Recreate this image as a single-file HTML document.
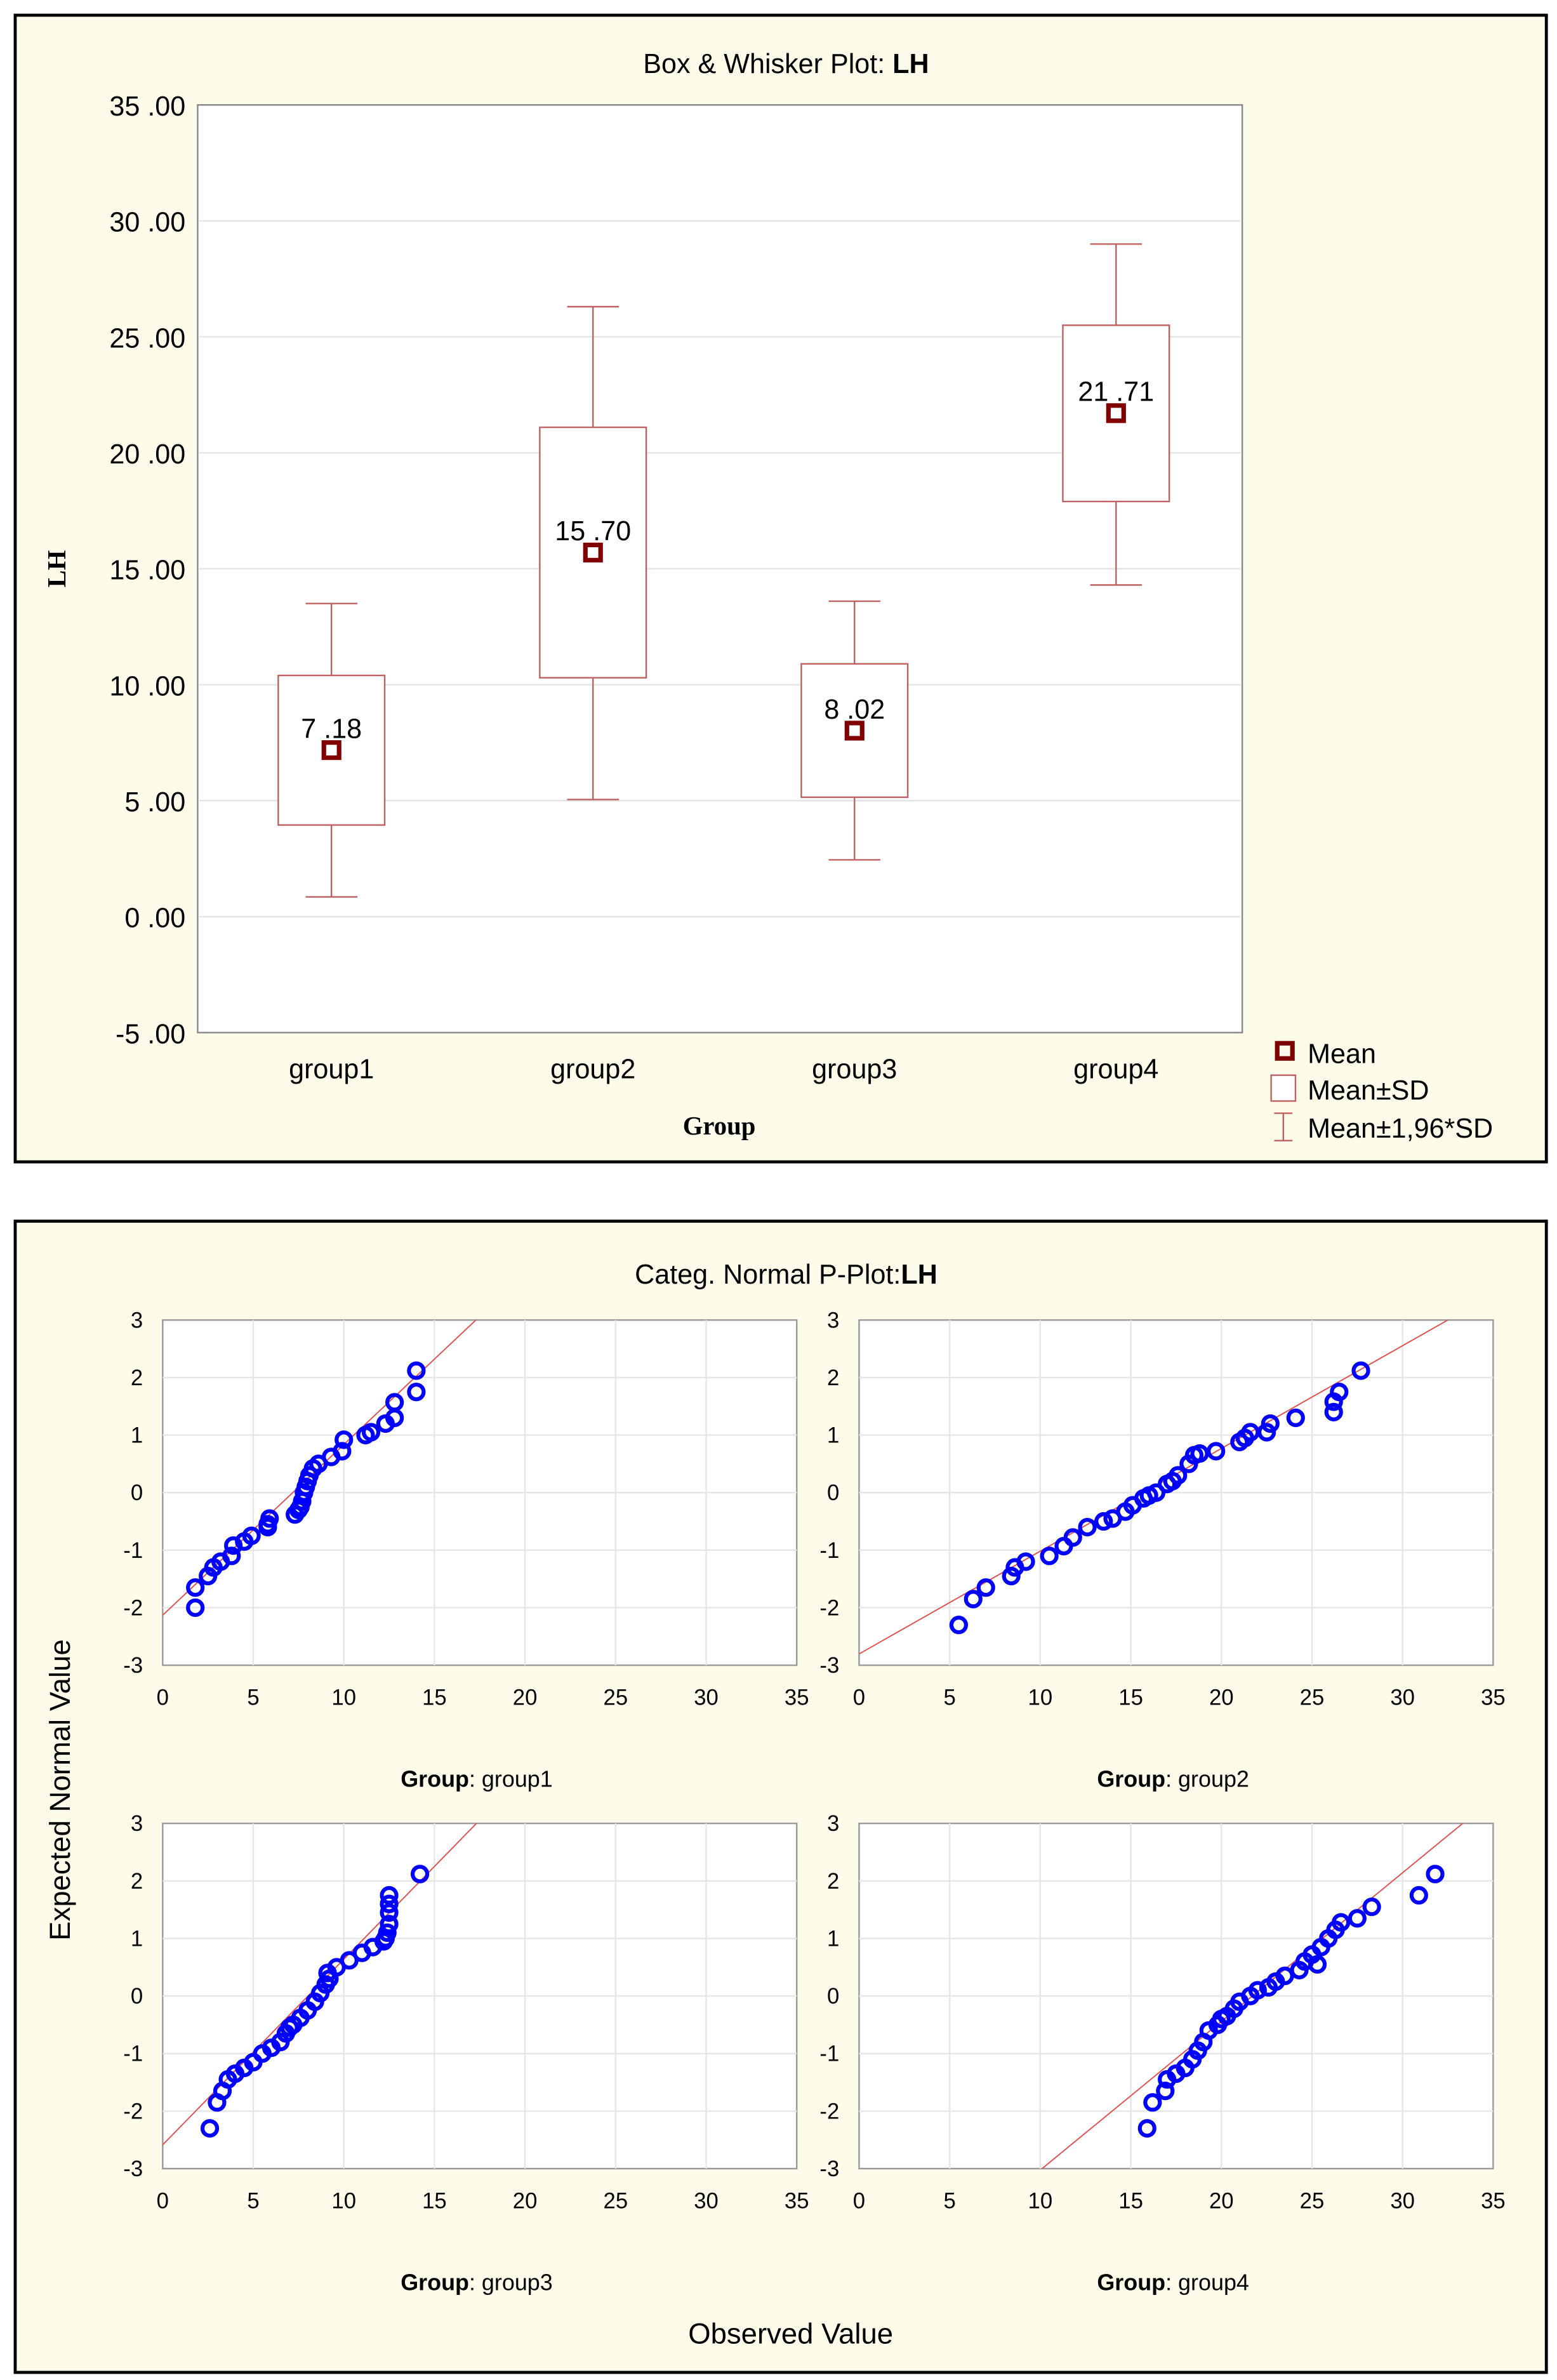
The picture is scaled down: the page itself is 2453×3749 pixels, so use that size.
<!DOCTYPE html>
<html><head><meta charset="utf-8"><style>
html,body{margin:0;padding:0;background:#fff}
svg{display:block}
text{font-family:"Liberation Sans",sans-serif;fill:#000}
</style></head><body>
<svg id="c" width="2453" height="3749" viewBox="0 0 1024 1565" preserveAspectRatio="none" xmlns="http://www.w3.org/2000/svg">
<rect x="10" y="10" width="1007" height="754" fill="#fdfbe9" stroke="#000" stroke-width="2"/>
<rect x="130" y="69" width="687" height="610" fill="#fff" stroke="#888" stroke-width="1"/>
<text x="517" y="48" font-size="18" text-anchor="middle">Box &amp; Whisker Plot: <tspan font-weight="bold">LH</tspan></text>
<text transform="translate(43,374) rotate(-90)" font-size="17" font-weight="bold" text-anchor="middle" style="font-family:'Liberation Serif',serif">LH</text>
<text x="473" y="746" font-size="17" font-weight="bold" text-anchor="middle" style="font-family:'Liberation Serif',serif">Group</text>
<g>
<rect x="840" y="686" width="10" height="10" fill="none" stroke="#800000" stroke-width="3"/>
<text x="860" y="699" font-size="18">Mean</text>
<rect x="836" y="707" width="16" height="17" fill="#fff" stroke="#c06060"/>
<text x="860" y="723" font-size="18">Mean±SD</text>
<path d="M838 732H850M844 732V750M838 750H850" stroke="#c06060" fill="none"/>
<text x="860" y="748" font-size="18">Mean±1,96*SD</text>
</g>
<g id="box"></g>
<rect x="10" y="803" width="1007" height="757" fill="#fdfbe9" stroke="#000" stroke-width="2"/>
<text x="517" y="844" font-size="18" text-anchor="middle">Categ. Normal P-Plot:<tspan font-weight="bold">LH</tspan></text>
<text transform="translate(46,1177) rotate(-90)" font-size="19" text-anchor="middle">Expected Normal Value</text>
<text x="520" y="1541" font-size="19" text-anchor="middle">Observed Value</text>
<g id="pp"></g>
</svg>
<script>
const NS="http://www.w3.org/2000/svg";
function mk(p,t,a){const e=document.createElementNS(NS,t);for(const k in a)e.setAttribute(k,a[k]);p.appendChild(e);return e;}
// Box plot data
const groups=["group1","group2","group3","group4"];
const means=[7.18,15.70,8.02,21.71];
const sdLow=[3.95,10.3,5.15,17.9];
const sdHigh=[10.4,21.1,10.9,25.5];
const whLow=[0.85,5.05,2.45,14.3];
const whHigh=[13.5,26.3,13.6,29.0];
const meanLabels=["7 .18","15 .70","8 .02","21 .71"];
const yTicks=[-5,0,5,10,15,20,25,30,35];
const yTickLabels=["-5 .00","0 .00","5 .00","10 .00","15 .00","20 .00","25 .00","30 .00","35 .00"];
const B=document.getElementById('box');
const by=v=>679-(v+5)/40*610;
const bx=i=>218+i*172;
yTicks.forEach((t,i)=>{
  if(t>-5&&t<35){const g=mk(B,'line',{x1:131,x2:816,y1:by(t),y2:by(t),stroke:'#e4e4e4'});
  
  }
  const l=mk(B,'text',{x:122,y:by(t)+7,'font-size':18,'text-anchor':'end'});l.textContent=yTickLabels[i];
  
  
});
groups.forEach((g,i)=>{
  const x=bx(i),c='#c06060';
  const gr=mk(B,'g',{});
  
  
  mk(gr,'line',{x1:x,x2:x,y1:by(whHigh[i]),y2:by(whLow[i]),stroke:c});
  mk(gr,'line',{x1:x-17,x2:x+17,y1:by(whHigh[i]),y2:by(whHigh[i]),stroke:c});
  mk(gr,'line',{x1:x-17,x2:x+17,y1:by(whLow[i]),y2:by(whLow[i]),stroke:c});
  mk(gr,'rect',{x:x-35,y:by(sdHigh[i]),width:70,height:by(sdLow[i])-by(sdHigh[i]),fill:'#fff',stroke:c});
  mk(gr,'rect',{x:x-5,y:by(means[i])-5,width:10,height:10,fill:'none',stroke:'#800000','stroke-width':3});
  const t=mk(gr,'text',{x:x,y:by(means[i])-8,'font-size':18,'text-anchor':'middle'});t.textContent=meanLabels[i];
  const xl=mk(B,'text',{x:x,y:709,'font-size':18,'text-anchor':'middle'});xl.textContent=g;
  
  
});
// P-plot data
const g1x=[1.8,1.8,2.5,2.8,3.2,3.8,3.9,4.5,4.9,5.8,5.9,7.3,7.6,7.8,8.0,8.3,8.6,9.3,9.9,10.0,11.2,11.5,12.3,12.8,12.8,14.0,14.0,5.8,7.5,7.9,8.1,7.7];
const g1z=[-2.0,-1.65,-1.45,-1.3,-1.2,-1.1,-0.92,-0.85,-0.75,-0.6,-0.45,-0.38,-0.25,0,0.2,0.42,0.5,0.62,0.72,0.92,1.0,1.05,1.2,1.3,1.57,1.75,2.12,-0.55,-0.3,0.1,0.3,-0.15];
const g2x=[5.5,6.3,7.0,8.4,8.6,9.2,10.5,11.3,11.8,12.6,14,14.7,15.1,15.7,16.4,17,17.6,18.2,18.5,19.7,21,21.6,22.5,22.7,24.1,26.2,26.2,26.5,27.7,13.5,16,17.3,18.8,21.3];
const g2z=[-2.3,-1.85,-1.65,-1.45,-1.3,-1.2,-1.1,-0.93,-0.78,-0.6,-0.45,-0.33,-0.22,-0.1,0,0.15,0.3,0.5,0.65,0.72,0.88,1.05,1.05,1.2,1.3,1.4,1.58,1.75,2.12,-0.5,-0.05,0.2,0.68,0.95];
const g3x=[2.6,3.0,3.3,3.6,4.0,4.5,5.0,5.5,6.0,6.5,6.8,7.2,7.6,8.0,8.4,8.7,9.0,9.1,9.6,10.3,11.0,11.6,12.2,12.4,12.5,12.5,12.5,12.5,14.2,12.3,9.2,7.0];
const g3z=[-2.3,-1.85,-1.65,-1.45,-1.35,-1.25,-1.15,-1.0,-0.9,-0.8,-0.65,-0.5,-0.38,-0.25,-0.1,0.05,0.2,0.4,0.5,0.62,0.75,0.85,0.95,1.1,1.25,1.45,1.6,1.75,2.12,1.0,0.3,-0.55];
const g4x=[15.9,16.2,16.9,17.0,17.5,18.0,18.4,18.7,19.0,19.3,19.8,20.3,20.7,21.0,21.6,22.0,22.6,23.0,23.5,24.3,24.6,25.0,25.5,25.9,26.3,26.6,27.5,28.3,30.9,31.8,25.3,20.0];
const g4z=[-2.3,-1.85,-1.65,-1.45,-1.35,-1.25,-1.1,-0.95,-0.8,-0.6,-0.5,-0.35,-0.22,-0.1,0,0.1,0.15,0.25,0.35,0.45,0.6,0.72,0.85,1.0,1.15,1.28,1.35,1.55,1.75,2.12,0.55,-0.4];
const lineMean=[7.18,15.7,8.02,21.71];
const lineSd=[3.37,5.6,3.1,3.87];
const xTicks=[0,5,10,15,20,25,30,35];
const zTicks=[-3,-2,-1,0,1,2,3];
const P=document.getElementById('pp');
const panels=[{x0:107,y0:868,d:[g1x,g1z]},{x0:565,y0:868,d:[g2x,g2z]},{x0:107,y0:1199,d:[g3x,g3z]},{x0:565,y0:1199,d:[g4x,g4z]}];
panels.forEach((p,i)=>{
  const W=417,H=227;
  const sx=v=>p.x0+v/35*W, sy=z=>p.y0+(3-z)/6*H;
  const g=mk(P,'g',{});
  
  
  mk(g,'rect',{x:p.x0,y:p.y0,width:W,height:H,fill:'#fff',stroke:'#999'});
  const cp=mk(g,'clipPath',{id:'cp'+i});mk(cp,'rect',{x:p.x0,y:p.y0,width:W,height:H});
  xTicks.forEach(t=>{
    if(t>0&&t<35)mk(g,'line',{x1:sx(t),x2:sx(t),y1:p.y0,y2:p.y0+H,stroke:'#e6e6e6'});
    const l=mk(g,'text',{x:sx(t),y:p.y0+H+26,'font-size':14.5,'text-anchor':'middle'});l.textContent=t;
  });
  zTicks.forEach(t=>{
    if(t>-3&&t<3)mk(g,'line',{x1:p.x0,x2:p.x0+W,y1:sy(t),y2:sy(t),stroke:'#e6e6e6'});
    const l=mk(g,'text',{x:p.x0-13,y:sy(t)+5,'font-size':14.5,'text-anchor':'end'});l.textContent=t;
  });
  const m=lineMean[i],s=lineSd[i];
  mk(g,'line',{x1:sx(m-4*s),y1:sy(-4),x2:sx(m+4*s),y2:sy(4),stroke:'#e05050','stroke-width':0.8,'clip-path':'url(#cp'+i+')'});
  p.d[0].forEach((v,j)=>{
    const c=mk(g,'circle',{cx:sx(v),cy:sy(p.d[1][j]),r:4.8,fill:'none',stroke:'#0000ff','stroke-width':2.6});
    
    
  });
  const tt=mk(g,'text',{x:p.x0+W/2-2,y:p.y0+H+80,'font-size':15,'text-anchor':'middle'});
  tt.innerHTML='<tspan font-weight="bold">Group</tspan>: '+groups[i];
  
  
});
</script>
</body></html>
